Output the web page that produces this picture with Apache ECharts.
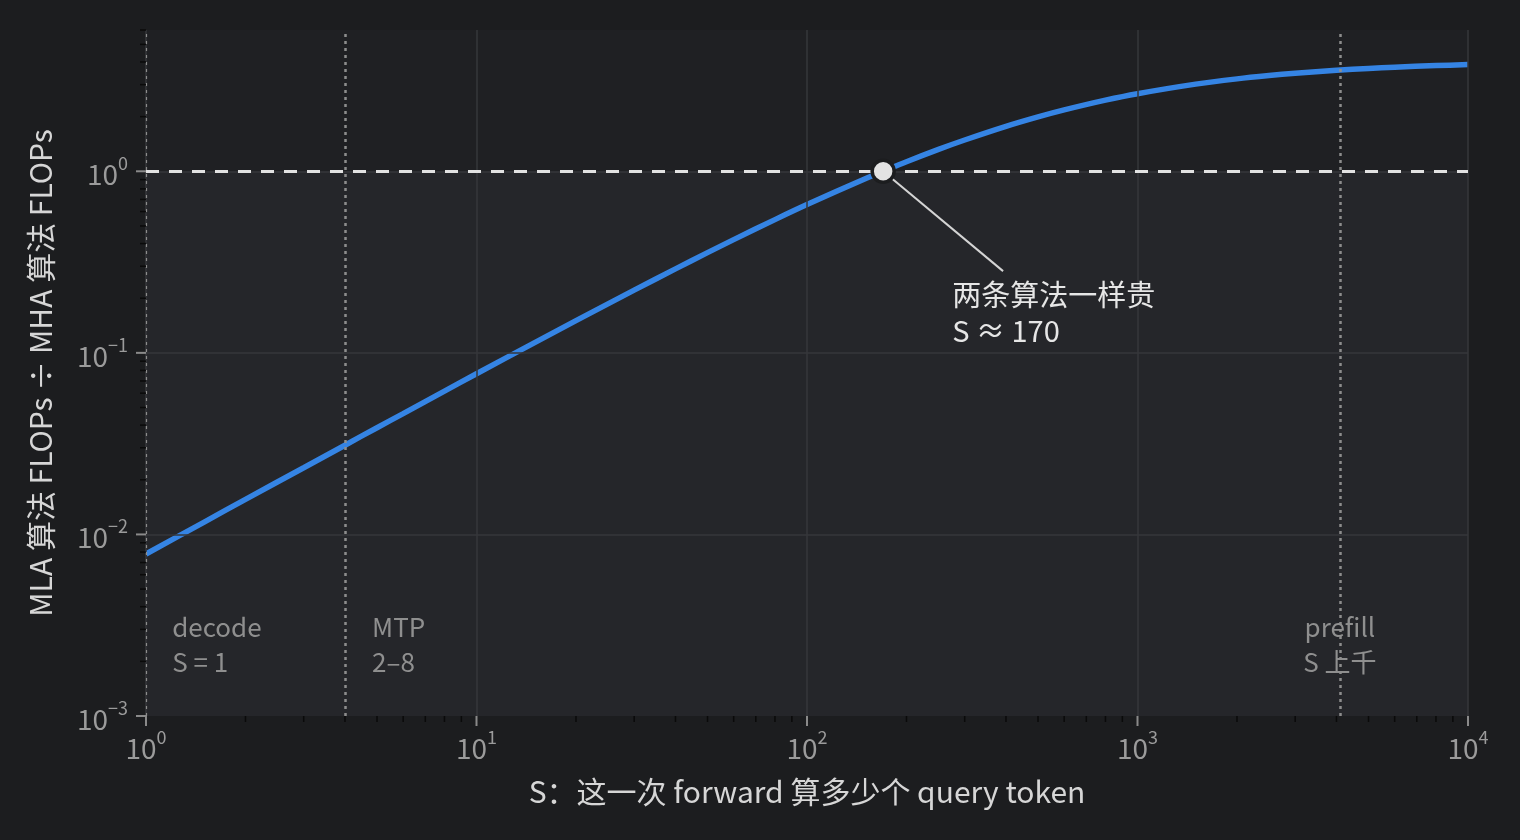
<!DOCTYPE html>
<html>
<head>
<meta charset="utf-8">
<script src="https://cdn.jsdelivr.net/npm/echarts@6/dist/echarts.min.js"></script>
<style>
html,body{margin:0;padding:0;background:#1c1d1f;}
#chart{width:1520px;height:840px;}
</style>
</head>
<body>
<div id="chart"></div>
<script>
// ---- data ----
const sValues = [1, 1.5, 2, 3, 4, 5, 6, 8, 10, 15, 20, 30, 40, 50, 60, 80, 100, 150, 170, 200, 250, 300, 400, 500, 600, 800, 1000, 1500, 2000, 2500, 3000, 4000, 5000, 6000, 8000, 10000];
const ratioValues = [0.0078, 0.0117, 0.0156, 0.0233, 0.0310, 0.0387, 0.0463, 0.0616, 0.0767, 0.1139, 0.1505, 0.2216, 0.2902, 0.3564, 0.4203, 0.5418, 0.6554, 0.9098, 1.0, 1.129, 1.320, 1.487, 1.768, 1.993, 2.178, 2.465, 2.676, 3.021, 3.229, 3.368, 3.468, 3.601, 3.686, 3.745, 3.821, 3.868];

const crossS = 170, crossRatio = 1;
const regimeLines = [1, 4, 4096];

const xTickValues = [1, 10, 100, 1000, 10000];
const xTickExps = ['0', '1', '2', '3', '4'];
const yTickValues = [0.001, 0.01, 0.1, 1];
const yTickExps = ['\u22123', '\u22122', '\u22121', '0'];

const xMinorTicks = [2,3,4,5,6,7,8,9,20,30,40,50,60,70,80,90,200,300,400,500,600,700,800,900,2000,3000,4000,5000,6000,7000,8000,9000];
const yMinorTicks = [0.002,0.003,0.004,0.005,0.006,0.007,0.008,0.009,0.02,0.03,0.04,0.05,0.06,0.07,0.08,0.09,0.2,0.3,0.4,0.5,0.6,0.7,0.8,0.9,2,3,4,5,6];

const xMin = 1, xMax = 10000, yMin = 0.001, yMax = 6;

const xAxisTitle = 'S：这一次 forward 算多少个 query token';
const yAxisTitle = 'MLA 算法 FLOPs ÷ MHA 算法 FLOPs';
const crossLabel = '两条算法一样贵\nS ≈ 170';
const crossLabelAt = [275, 0.1655];
const leaderEnd = [392, 0.282];
const regimeLabels = [
  {text: 'decode\nS = 1', at: [1.2, 0.00246], pos: 'right'},
  {text: 'MTP\n2–8', at: [4.83, 0.00246], pos: 'right'},
  {text: 'prefill\nS 上千', at: [4096, 0.00246], pos: 'inside'}
];

// ---- chart ----
const FONT = '"Noto Sans CJK SC", "Noto Sans", sans-serif';
const tickColor = '#9b9b9b';

function fmt(values, exps) {
  return function (v) {
    for (let i = 0; i < values.length; i++) {
      if (Math.abs(v - values[i]) / values[i] < 1e-6) return '{b|10}{s|' + exps[i] + '}';
    }
    return '';
  };
}
const richTicks = {
  b: {fontSize: 28, color: tickColor, fontFamily: FONT, lineHeight: 34, verticalAlign: 'bottom'},
  s: {fontSize: 18, color: tickColor, fontFamily: FONT, lineHeight: 20, verticalAlign: 'top'}
};

function tickSeries(name, axis, list, len, color, width) {
  return {
    type: 'custom', name: name, z: 10, silent: true, clip: false,
    data: list.map(v => axis === 'x' ? [v, yMin] : [xMin, v]),
    renderItem: function (params, api) {
      const p = api.coord([api.value(0), api.value(1)]);
      const shape = axis === 'x'
        ? {x1: p[0], y1: p[1], x2: p[0], y2: p[1] + len}
        : {x1: p[0] - len, y1: p[1], x2: p[0], y2: p[1]};
      return {type: 'line', shape: shape, style: {stroke: color, lineWidth: width}};
    }
  };
}

const chart = echarts.init(document.getElementById('chart'));
chart.setOption({
  backgroundColor: '#1c1d1f',
  animation: false,
  grid: {left: 146, right: 52, top: 30, bottom: 124, containLabel: false},
  xAxis: {
    type: 'log', logBase: 10, min: xMin, max: xMax,
    name: xAxisTitle, nameLocation: 'middle', nameGap: 61,
    nameTextStyle: {color: '#d6d6d6', fontSize: 30, fontFamily: FONT},
    axisLine: {show: false}, axisTick: {show: false}, splitLine: {show: false},
    axisLabel: {formatter: fmt(xTickValues, xTickExps), rich: richTicks, margin: 12, showMaxLabel: true, showMinLabel: true}
  },
  yAxis: {
    type: 'log', logBase: 10, min: yMin, max: yMax,
    name: yAxisTitle, nameLocation: 'middle', nameGap: 90,
    nameTextStyle: {color: '#d6d6d6', fontSize: 30, fontFamily: FONT},
    axisLine: {show: false}, axisTick: {show: false}, splitLine: {show: false},
    axisLabel: {formatter: fmt(yTickValues, yTickExps), rich: richTicks, margin: 18}
  },
  series: [
    { // backgrounds
      type: 'line', z: 0, silent: true, data: [],
      markArea: {
        silent: true,
        data: [
          [{yAxis: yMin, itemStyle: {color: '#25262a'}}, {yAxis: crossRatio}],
          [{yAxis: crossRatio, itemStyle: {color: '#1f2023'}}, {yAxis: yMax}]
        ]
      }
    },
    { // grid lines
      type: 'line', z: 1, silent: true, data: [],
      markLine: {
        silent: true, symbol: 'none', label: {show: false},
        lineStyle: {color: '#36373b', width: 1.5, type: 'solid'},
        data: xTickValues.map(v => ({xAxis: v})).concat(yTickValues.map(v => ({yAxis: v})))
      }
    },
    { // regime dotted lines & y=1 dashed line
      type: 'line', z: 2, silent: true, data: [],
      markLine: {
        silent: true, symbol: 'none', label: {show: false},
        data: [
          {xAxis: regimeLines[0], lineStyle: {color: '#8d8d8d', width: 1.2, type: [3, 4]}},
          {xAxis: regimeLines[1], lineStyle: {color: '#8d8d8d', width: 2.5, type: [3, 4]}},
          {xAxis: regimeLines[2], lineStyle: {color: '#8d8d8d', width: 2.5, type: [3, 4]}},
          {yAxis: crossRatio, lineStyle: {color: '#e2e2e2', width: 3, type: [13, 10]}}
        ]
      },
      markPoint: {
        silent: true, symbol: 'circle', symbolSize: 0,
        data: regimeLabels.map(r => ({
          coord: r.at,
          label: {show: true, formatter: r.text, position: r.pos, distance: 0,
                  color: '#8f8f8f', fontSize: 26, lineHeight: 35, fontFamily: FONT, align: r.pos === 'inside' ? 'center' : 'left'}
        }))
      }
    },
    { // curve
      type: 'line', z: 3, silent: true, name: 'ratio',
      data: sValues.map((s, i) => [s, ratioValues[i]]),
      smooth: 0.3, showSymbol: false, symbol: 'none',
      lineStyle: {color: '#3584e4', width: 5.5}
    },
    { // leader line + label
      type: 'line', z: 4, silent: true, data: [],
      markLine: {
        silent: true, symbol: 'none', label: {show: false},
        lineStyle: {color: '#d4d4d4', width: 2, type: 'solid'},
        data: [[{coord: [crossS, crossRatio]}, {coord: leaderEnd}]]
      },
      markPoint: {
        silent: true, symbol: 'circle', symbolSize: 0,
        data: [{
          coord: crossLabelAt,
          label: {show: true, formatter: crossLabel, position: 'right', distance: 0,
                  color: '#e6e6e6', fontSize: 29, lineHeight: 36, fontFamily: FONT, align: 'left'}
        }]
      }
    },
    { // crossing point
      type: 'scatter', z: 5, silent: true,
      data: [[crossS, crossRatio]], symbol: 'circle', symbolSize: 22,
      itemStyle: {color: '#e3e3e3', borderColor: '#1c1d1f', borderWidth: 3.5, opacity: 1}
    },
    tickSeries('xMajor', 'x', xTickValues, 10, '#8a8a8a', 2),
    tickSeries('yMajor', 'y', yTickValues, 10, '#8a8a8a', 2),
    tickSeries('xMinor', 'x', xMinorTicks, 6, '#0a0a0a', 1.5),
    tickSeries('yMinor', 'y', yMinorTicks, 6, '#0a0a0a', 1.5)
  ]
});
</script>
</body>
</html>
